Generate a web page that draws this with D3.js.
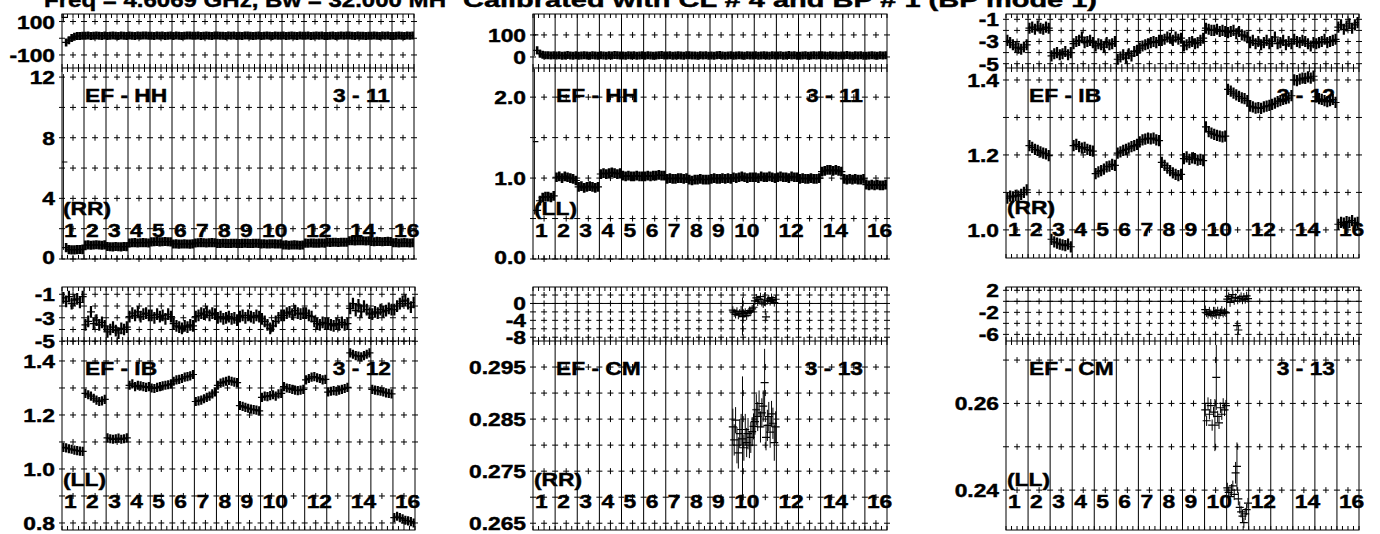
<!DOCTYPE html>
<html>
<head>
<meta charset="utf-8">
<script src="https://cdn.jsdelivr.net/npm/d3@7"></script>
<style>
  body { margin: 0; background: #fff; }
  svg { display: block; }
  text { font-family: "Liberation Sans", Arial, Helvetica, sans-serif; font-weight: bold; fill: #000; stroke: #000; stroke-width: 0.45px; }
</style>
</head>
<body>
<svg id="chart" width="1380" height="534"></svg>
<script>
// ---- data: one array of channel values per IF (16 IFs) ----
const ifLabelAt = [1, 2, 3, 4, 5, 6, 7, 8, 9, 10, 12, 14, 16];

// EF - HH, RR
const hhRRPhase = [
  [125, -25, -12, 2, 9, 13, 14, 15],
  [15, 16, 14, 15, 17, 15, 14, 16], [14, 15, 16, 15, 14, 16, 15, 14],
  [16, 15, 14, 16, 15, 17, 16, 15], [15, 14, 16, 15, 16, 14, 15, 16],
  [14, 16, 15, 14, 15, 16, 17, 15], [15, 16, 14, 15, 16, 15, 14, 16],
  [16, 15, 15, 14, 16, 15, 16, 14], [15, 14, 16, 17, 15, 14, 15, 16],
  [14, 15, 16, 15, 14, 16, 15, 15], [16, 14, 15, 16, 15, 14, 16, 15],
  [15, 16, 14, 15, 17, 15, 16, 14], [14, 15, 16, 14, 15, 16, 15, 16],
  [16, 15, 14, 16, 15, 15, 14, 15], [15, 17, 15, 14, 16, 15, 16, 14],
  [14, 15, 16, 15, 14, 16, 15, 16]
];
const hhRRAmp = [
  [6.4, 0.75, 0.62, 0.6, 0.6, 0.62, 0.63, 0.62],
  [0.92, 0.93, 0.91, 0.92, 0.94, 0.92, 0.91, 0.93], [0.82, 0.81, 0.8, 0.82, 0.81, 0.8, 0.82, 0.81],
  [1.06, 1.07, 1.08, 1.06, 1.07, 1.08, 1.07, 1.06], [1.13, 1.14, 1.15, 1.13, 1.14, 1.15, 1.14, 1.13],
  [0.99, 1.0, 0.98, 0.99, 1.0, 0.99, 0.98, 1.0], [1.06, 1.07, 1.08, 1.07, 1.06, 1.07, 1.08, 1.07],
  [1.03, 1.02, 1.04, 1.03, 1.02, 1.03, 1.04, 1.03], [1.02, 1.03, 1.04, 1.03, 1.02, 1.03, 1.04, 1.03],
  [1.0, 1.01, 0.99, 1.0, 1.01, 1.0, 0.99, 1.0], [0.92, 0.93, 0.91, 0.92, 0.93, 0.92, 0.91, 0.92],
  [1.05, 1.04, 1.06, 1.05, 1.04, 1.05, 1.06, 1.05], [1.1, 1.09, 1.11, 1.1, 1.09, 1.1, 1.11, 1.1],
  [1.2, 1.21, 1.19, 1.2, 1.21, 1.2, 1.19, 1.2], [1.15, 1.14, 1.16, 1.15, 1.14, 1.15, 1.16, 1.15],
  [1.07, 1.08, 1.06, 1.07, 1.08, 1.07, 1.06, 1.07]
];

// EF - HH, LL
const hhLLPhase = [
  [100, 30, 15, 10, 8, 8, 7, 8],
  [7, 8, 6, 7, 9, 7, 6, 8], [6, 7, 8, 7, 6, 8, 7, 6], [8, 7, 6, 8, 7, 9, 8, 7],
  [7, 6, 8, 7, 8, 6, 7, 8], [6, 8, 7, 6, 7, 8, 9, 7], [7, 8, 6, 7, 8, 7, 6, 8],
  [8, 7, 7, 6, 8, 7, 8, 6], [7, 6, 8, 9, 7, 6, 7, 8], [6, 7, 8, 7, 6, 8, 7, 7],
  [8, 6, 7, 8, 7, 6, 8, 7], [7, 8, 6, 7, 9, 7, 8, 6], [6, 7, 8, 6, 7, 8, 7, 8],
  [8, 7, 6, 8, 7, 7, 6, 7], [7, 9, 7, 6, 8, 7, 8, 6], [6, 7, 8, 7, 6, 8, 7, 8]
];
const hhLLAmp = [
  [1.45, 0.6, 0.72, 0.76, 0.77, 0.77, 0.76, 0.78],
  [1.01, 1.02, 1.0, 1.02, 1.01, 1.0, 0.99, 0.97], [0.89, 0.9, 0.88, 0.89, 0.9, 0.89, 0.88, 0.89],
  [1.05, 1.06, 1.05, 1.06, 1.07, 1.06, 1.05, 1.06], [1.03, 1.02, 1.03, 1.02, 1.02, 1.03, 1.02, 1.02],
  [1.02, 1.03, 1.02, 1.03, 1.03, 1.04, 1.03, 1.03], [0.99, 1.0, 0.99, 0.99, 1.0, 1.0, 0.99, 1.0],
  [0.98, 0.97, 0.98, 0.98, 0.99, 0.98, 0.98, 0.98], [0.99, 1.0, 0.99, 0.99, 1.0, 0.99, 1.0, 0.99],
  [1.01, 1.0, 1.01, 1.02, 1.01, 1.0, 1.01, 1.01], [1.01, 1.0, 1.02, 1.01, 1.01, 1.02, 1.01, 1.0],
  [1.01, 1.02, 1.01, 1.01, 1.0, 1.02, 1.01, 1.01], [0.99, 1.0, 0.99, 0.99, 1.0, 0.99, 0.99, 1.0],
  [1.08, 1.09, 1.1, 1.1, 1.09, 1.1, 1.09, 1.08], [0.99, 0.98, 0.99, 0.98, 0.99, 0.98, 0.98, 0.99],
  [0.92, 0.91, 0.92, 0.91, 0.92, 0.91, 0.91, 0.92]
];

// EF - IB, RR
const ibRRPhase = [
  [-2.9, -3.1, -3.3, -3.5, -3.6, -3.7, -3.5, -3.3], [-1.8, -1.7, -1.9, -1.6, -1.8, -1.9, -1.7, -1.8],
  [-4.3, -4.1, -4.0, -4.2, -4.1, -3.9, -4.2, -4.0], [-3.2, -3.0, -2.9, -2.6, -3.1, -3.0, -2.9, -3.1],
  [-3.4, -3.2, -3.3, -3.5, -3.1, -3.3, -3.2, -3.0], [-4.6, -4.4, -4.2, -4.5, -4.1, -4.3, -3.9, -3.8],
  [-3.6, -3.4, -3.3, -3.2, -3.1, -3.0, -3.1, -2.9], [-2.9, -2.8, -2.6, -2.7, -2.9, -2.6, -2.8, -2.7],
  [-3.4, -3.3, -3.1, -3.0, -3.2, -3.1, -2.9, -2.7], [-1.8, -1.9, -2.0, -2.0, -1.9, -2.1, -2.0, -2.1],
  [-2.2, -2.1, -2.0, -2.3, -2.1, -2.4, -2.5, -2.6], [-3.1, -2.9, -3.2, -3.0, -3.3, -3.1, -2.9, -3.2],
  [-3.0, -2.6, -3.2, -3.1, -2.9, -3.3, -3.0, -3.2], [-2.8, -3.0, -3.1, -2.9, -3.0, -3.2, -3.4, -3.1],
  [-3.2, -3.1, -3.0, -2.8, -3.1, -3.0, -2.9, -2.8], [-1.7, -1.5, -1.9, -1.6, -1.4, -1.8, -1.5, -1.3]
];
const ibRRAmp = [
  [1.085, 1.09, 1.088, 1.092, 1.09, 1.095, 1.1, 1.107], [1.225, 1.22, 1.215, 1.212, 1.208, 1.205, 1.203, 1.198],
  [0.975, 0.968, 0.965, 0.962, 0.96, 0.958, 0.962, 0.955], [1.225, 1.228, 1.222, 1.218, 1.22, 1.215, 1.212, 1.21],
  [1.15, 1.155, 1.158, 1.162, 1.168, 1.17, 1.175, 1.172], [1.205, 1.208, 1.212, 1.215, 1.218, 1.222, 1.225, 1.228],
  [1.235, 1.24, 1.242, 1.245, 1.243, 1.245, 1.24, 1.238], [1.18, 1.172, 1.165, 1.158, 1.152, 1.148, 1.145, 1.148],
  [1.19, 1.195, 1.188, 1.192, 1.19, 1.186, 1.188, 1.185], [1.275, 1.262, 1.258, 1.255, 1.252, 1.25, 1.248, 1.25],
  [1.375, 1.37, 1.365, 1.36, 1.356, 1.352, 1.35, 1.345], [1.33, 1.328, 1.325, 1.326, 1.324, 1.328, 1.33, 1.332],
  [1.335, 1.338, 1.342, 1.345, 1.348, 1.35, 1.352, 1.358], [1.4, 1.398, 1.402, 1.405, 1.404, 1.408, 1.405, 1.41],
  [1.355, 1.35, 1.348, 1.345, 1.342, 1.345, 1.348, 1.34], [1.015, 1.02, 1.018, 1.022, 1.02, 1.025, 1.018, 1.02]
];

// EF - IB, LL
const ibLLPhase = [
  [-1.3, -1.6, -1.2, -1.8, -1.5, -1.4, -1.7, -1.2], [-3.6, -3.3, -2.5, -3.5, -3.2, -3.6, -3.4, -3.7],
  [-4.2, -4.0, -3.8, -4.1, -4.3, -3.9, -4.0, -3.8], [-2.9, -2.6, -2.8, -2.5, -2.9, -2.7, -2.6, -2.8],
  [-2.8, -3.0, -2.7, -2.9, -2.8, -3.1, -2.7, -2.9], [-3.5, -3.7, -3.8, -3.9, -3.7, -3.8, -3.6, -3.7],
  [-2.9, -2.8, -2.6, -2.7, -2.5, -2.8, -2.6, -2.7], [-3.0, -2.9, -3.1, -3.0, -2.9, -3.1, -3.0, -3.2],
  [-2.9, -2.8, -3.0, -2.8, -2.9, -3.0, -2.8, -2.9], [-3.1, -3.3, -3.6, -3.9, -3.7, -3.3, -3.0, -2.8],
  [-2.8, -2.6, -2.5, -2.7, -2.4, -2.6, -2.7, -2.6], [-2.6, -2.8, -2.9, -3.3, -3.5, -3.6, -3.4, -3.5],
  [-3.5, -3.6, -3.7, -3.5, -3.6, -3.4, -3.6, -3.5], [-2.2, -1.8, -2.4, -1.9, -2.5, -2.0, -2.3, -2.6],
  [-2.7, -2.5, -2.6, -2.3, -2.5, -2.4, -2.2, -2.3], [-2.3, -2.0, -1.8, -1.6, -1.5, -1.8, -2.1, -1.7]
];
const ibLLAmp = [
  [1.08, 1.078, 1.075, 1.073, 1.07, 1.068, 1.066, 1.065], [1.28, 1.275, 1.27, 1.262, 1.255, 1.25, 1.252, 1.258],
  [1.115, 1.112, 1.11, 1.112, 1.114, 1.11, 1.112, 1.115], [1.31, 1.315, 1.305, 1.31, 1.308, 1.305, 1.302, 1.305],
  [1.3, 1.298, 1.302, 1.305, 1.308, 1.31, 1.312, 1.315], [1.325, 1.33, 1.332, 1.335, 1.34, 1.342, 1.345, 1.35],
  [1.25, 1.252, 1.255, 1.26, 1.265, 1.27, 1.278, 1.285], [1.31, 1.318, 1.322, 1.325, 1.328, 1.325, 1.322, 1.32],
  [1.235, 1.232, 1.228, 1.225, 1.222, 1.22, 1.218, 1.215], [1.265, 1.27, 1.268, 1.272, 1.275, 1.27, 1.278, 1.28],
  [1.305, 1.3, 1.298, 1.295, 1.292, 1.29, 1.292, 1.295], [1.33, 1.335, 1.34, 1.342, 1.338, 1.335, 1.33, 1.332],
  [1.285, 1.288, 1.29, 1.288, 1.292, 1.295, 1.298, 1.302], [1.43, 1.425, 1.42, 1.418, 1.415, 1.42, 1.425, 1.43],
  [1.295, 1.292, 1.29, 1.288, 1.285, 1.282, 1.28, 1.278], [0.82, 0.825, 0.82, 0.815, 0.81, 0.808, 0.805, 0.80]
];

// EF - CM: data only in IF 10 and 11
const cmRRPhase = [[], [], [], [], [], [], [], [], [],
  [-1.6, -2.2, -2.6, -1.9, -2.8, -2.3, -1.8, -3.1, -2.5, -2.1, -2.9, -2.3, -1.7, -2.0, -1.3, -0.9],
  [0.6, 1.3, 0.4, 0.9, 1.6, 0.3, -0.1, 1.0, -3.2, 0.7, 1.1, 0.5, 1.4, 0.8, 0.2, 1.0],
  [], [], [], [], []];
const cmRRPhaseErr = [[], [], [], [], [], [], [], [], [],
  [0.8, 0.9, 0.8, 1.0, 0.9, 0.8, 1.2, 4.5, 0.9, 0.8, 1.0, 0.9, 0.8, 0.9, 0.8, 0.9],
  [0.9, 0.8, 1.0, 0.9, 0.8, 1.0, 0.9, 1.6, 0.9, 0.8, 0.9, 1.0, 0.8, 0.9, 0.8, 0.9],
  [], [], [], [], []];
const cmRRAmp = [[], [], [], [], [], [], [], [], [],
  [0.2835, 0.2810, 0.2848, 0.2800, 0.2785, 0.2822, 0.2830, 0.2812, 0.2795, 0.2830, 0.2805, 0.2822, 0.2800, 0.2815, 0.2826, 0.2836],
  [0.2845, 0.2868, 0.2855, 0.2880, 0.2835, 0.2862, 0.2875, 0.2920, 0.2815, 0.2838, 0.2855, 0.2825, 0.2860, 0.2842, 0.2805, 0.2835],
  [], [], [], [], []];
const cmRRAmpErr = [[], [], [], [], [], [], [], [], [],
  [0.0035, 0.003, 0.0025, 0.0035, 0.003, 0.0028, 0.003, 0.012, 0.0025, 0.003, 0.0028, 0.003, 0.0025, 0.003, 0.0028, 0.0025],
  [0.0025, 0.003, 0.0028, 0.0025, 0.003, 0.0028, 0.003, 0.0065, 0.0025, 0.003, 0.0028, 0.003, 0.0025, 0.003, 0.0035, 0.003],
  [], [], [], [], []];

const cmLLPhase = [[], [], [], [], [], [], [], [], [],
  [-1.5, -2.1, -2.4, -1.8, -2.2, -2.6, -1.9, -2.0, -2.3, -1.7, -2.5, -2.0, -1.6, -2.2, -1.9, -2.1],
  [0.4, 0.9, -0.2, 0.6, 1.2, 0.1, 0.7, -4.4, -5.2, 0.5, 0.9, 0.2, 0.8, 0.3, 1.0, 0.5],
  [], [], [], [], []];
const cmLLPhaseErr = [[], [], [], [], [], [], [], [], [],
  [0.6, 0.7, 0.6, 0.8, 0.7, 0.6, 0.9, 1.0, 0.9, 0.7, 0.6, 0.7, 0.6, 0.7, 0.6, 0.7],
  [0.7, 0.6, 0.8, 0.7, 0.9, 0.6, 0.7, 0.8, 0.8, 0.7, 0.6, 0.7, 0.6, 0.7, 0.6, 0.7],
  [], [], [], [], []];
const cmLLAmp = [[], [], [], [], [], [], [], [], [],
  [0.2585, 0.2560, 0.2600, 0.2575, 0.2595, 0.2550, 0.2580, 0.2550, 0.2660, 0.2570, 0.2555, 0.2590, 0.2575, 0.2600, 0.2585, 0.2595],
  [0.2405, 0.2395, 0.2385, 0.2400, 0.2410, 0.2390, 0.2440, 0.2455, 0.2380, 0.2360, 0.2350, 0.2340, 0.2325, 0.2345, 0.2355, 0.2370],
  [], [], [], [], []];
const cmLLAmpErr = [[], [], [], [], [], [], [], [], [],
  [0.0015, 0.0012, 0.0014, 0.0012, 0.0015, 0.0013, 0.0012, 0.006, 0.0075, 0.0013, 0.0014, 0.0012, 0.0013, 0.0012, 0.0014, 0.0013],
  [0.0012, 0.0013, 0.0012, 0.0014, 0.0012, 0.0013, 0.0025, 0.0055, 0.0015, 0.0014, 0.0013, 0.0015, 0.0012, 0.0014, 0.0013, 0.0012],
  [], [], [], [], []];

const fmtPlain = spec => v => d3.format(spec)(v).replace("\u2212", "-");

// ---- panel definitions ----
const panels = [
  { box: {l: 62, r: 414, t: 14, m: 68, b: 259}, name: "EF - HH", ids: "3 - 11", pol: "(RR)",
    phase: hhRRPhase, amp: hhRRAmp, phaseErr: 24, ampErr: 0.3, armW: 2.6,
    flares: {phase: [[0, 0, 30]], amp: [[0, 0, 5.8]]},
    phaseDomain: [-178, 145], ampDomain: [0, 12.6], phaseLabels: [100, -100], phaseRows: [-100, 0, 100],
    ampLabels: [12, 8, 4, 0], ampRows: [0, 2, 4, 6, 8, 10, 12], fmt: fmtPlain("d") },
  { box: {l: 533, r: 887, t: 14, m: 68, b: 259}, name: "EF - HH", ids: "3 - 11", pol: "(LL)",
    phase: hhLLPhase, amp: hhLLAmp, phaseErr: 18, ampErr: 0.06, armW: 2.6,
    flares: {phase: [[0, 0, 95]], amp: [[0, 0, 0.9]]},
    phaseDomain: [-50, 195], ampDomain: [0, 2.36], phaseLabels: [100, 0], phaseRows: [0, 100],
    ampLabels: [2, 1, 0], ampRows: [0, 0.5, 1, 1.5, 2], fmt: fmtPlain(".1f") },
  { box: {l: 1006, r: 1359, t: 14, m: 68, b: 258}, name: "EF - IB", ids: "3 - 12", pol: "(RR)",
    phase: ibRRPhase, amp: ibRRAmp, phaseErr: 0.5, ampErr: 0.015, armW: 2.2,
    flares: {phase: [], amp: []},
    phaseDomain: [-5.39, -0.52], ampDomain: [0.925, 1.432], phaseLabels: [-1, -3, -5], phaseRows: [-5, -4, -3, -2, -1],
    ampLabels: [1.4, 1.2, 1.0], ampRows: [1.0, 1.1, 1.2, 1.3, 1.4], fmt: fmtPlain(".1f") },
  { box: {l: 62, r: 415, t: 287, m: 341, b: 530}, name: "EF - IB", ids: "3 - 12", pol: "(LL)",
    phase: ibLLPhase, amp: ibLLAmp, phaseErr: 0.5, ampErr: 0.017, armW: 2.2,
    flares: {phase: [], amp: []},
    phaseDomain: [-4.98, -0.38], ampDomain: [0.774, 1.474], phaseLabels: [-1, -3, -5], phaseRows: [-5, -4, -3, -2, -1],
    ampLabels: [1.4, 1.2, 1.0, 0.8], ampRows: [0.8, 0.9, 1.0, 1.1, 1.2, 1.3, 1.4], fmt: fmtPlain(".1f") },
  { box: {l: 533, r: 887, t: 287, m: 341, b: 530}, name: "EF - CM", ids: "3 - 13", pol: "(RR)",
    phase: cmRRPhase, amp: cmRRAmp, phaseErr: cmRRPhaseErr, ampErr: cmRRAmpErr, armW: 1,
    flares: {phase: [], amp: []},
    phaseDomain: [-8.9, 3.9], ampDomain: [0.2637, 0.300], phaseLabels: [0, -4, -8], phaseRows: [-8, -6, -4, -2, 0, 2],
    ampLabels: [0.295, 0.285, 0.275, 0.265], ampRows: [0.265, 0.27, 0.275, 0.28, 0.285, 0.29, 0.295], fmt: fmtPlain(".3f"),
    zeroLine: true },
  { box: {l: 1006, r: 1359, t: 287, m: 341, b: 530}, name: "EF - CM", ids: "3 - 13", pol: "(LL)",
    phase: cmLLPhase, amp: cmLLAmp, phaseErr: cmLLPhaseErr, ampErr: cmLLAmpErr, armW: 1,
    flares: {phase: [], amp: []},
    phaseDomain: [-7.2, 2.6], ampDomain: [0.2308, 0.2744], phaseLabels: [2, -2, -6], phaseRows: [-6, -4, -2, 0, 2],
    ampLabels: [0.26, 0.24], ampRows: [0.24, 0.25, 0.26, 0.27], fmt: fmtPlain(".2f"),
    zeroLine: true }
];

const nIF = 16;
const svg = d3.select("#chart");
const FS = 19;

function label(g, x, y, s, anchor) {
  g.append("text")
    .attr("transform", `translate(${x},${y}) scale(1.2,1)`)
    .attr("text-anchor", anchor)
    .style("font-size", FS + "px")
    .text(s);
}

// each channel drawn AIPS style: a "+" whose vertical arm is the error bar
// returns [horizontal arms, vertical arms, thin flare bars]
function seriesPaths(vals, errs, flares, x, y) {
  let h = "", v = "", f = "";
  vals.forEach((arr, i) => {
    if (!arr || !arr.length) return;
    const n = arr.length;
    arr.forEach((val, k) => {
      const cx = x(i + (k + 0.5) / n);
      let e = typeof errs === "number" ? errs : errs[i][k];
      const fl = flares.find(q => q[0] === i && q[1] === k);
      if (fl) e = fl[2];
      const cy = y(val);
      const y1 = Math.min(y(val + e), cy - 4), y2 = Math.max(y(val - e), cy + 4);
      h += `M${cx - 4},${cy}H${cx + 4}`;
      if (fl) f += `M${cx},${y1}V${y2}`; else v += `M${cx},${y1}V${y2}`;
    });
  });
  return [h, v, f];
}

panels.forEach((p, pi) => {
  const {l, r, t, m, b} = p.box;
  const x = d3.scaleLinear().domain([0, nIF]).range([l, r]);
  const yP = d3.scaleLinear().domain(p.phaseDomain).range([m, t]);
  const yA = d3.scaleLinear().domain(p.ampDomain).range([b, m]);
  const g = svg.append("g");

  const defs = g.append("defs");
  defs.append("clipPath").attr("id", "cp" + pi).append("rect").attr("x", l).attr("y", t).attr("width", r - l).attr("height", m - t);
  defs.append("clipPath").attr("id", "ca" + pi).append("rect").attr("x", l).attr("y", m).attr("width", r - l).attr("height", b - m);

  const grid = g.append("g").attr("stroke", "#000").attr("stroke-width", 1).attr("fill", "none");
  d3.range(1, nIF).forEach(i => {
    grid.append("line").attr("x1", x(i)).attr("x2", x(i)).attr("y1", t).attr("y2", b);
  });
  let tk = "";
  d3.range(0, nIF * 4 + 1).forEach(j => {
    const xx = x(j / 4);
    tk += `M${xx},${t}v4M${xx},${m - 4}v8M${xx},${b}v-4`;
  });
  const rowPath = (rows, y) => {
    let s = "";
    rows.forEach(v => {
      const yy = y(v);
      d3.range(0, nIF + 1).forEach(i => { s += `M${x(i) - 3},${yy}h6`; });
      d3.range(0, nIF).forEach(i => { const xm = x(i + 0.5); s += `M${xm - 3},${yy}h6M${xm},${yy - 3}v6`; });
    });
    return s;
  };
  tk += rowPath(p.phaseRows, yP) + rowPath(p.ampRows, yA);
  grid.append("path").attr("d", tk);
  if (p.zeroLine) grid.append("line").attr("x1", l).attr("x2", r).attr("y1", yP(0)).attr("y2", yP(0));
  grid.append("rect").attr("x", l).attr("y", t).attr("width", r - l).attr("height", b - t);
  grid.append("line").attr("x1", l).attr("x2", r).attr("y1", m).attr("y2", m);

  // data
  const ph = seriesPaths(p.phase, p.phaseErr, p.flares.phase, x, yP);
  const am = seriesPaths(p.amp, p.ampErr, p.flares.amp, x, yA);
  [[ph, "cp"], [am, "ca"]].forEach(([d, c]) => {
    const dg = g.append("g").attr("clip-path", `url(#${c}${pi})`).attr("fill", "none").attr("stroke", "#000");
    dg.append("path").attr("d", d[0]).attr("stroke-width", 1.2);
    dg.append("path").attr("d", d[1]).attr("stroke-width", p.armW);
    dg.append("path").attr("d", d[2]).attr("stroke-width", 1);
  });

  // axis labels
  p.phaseLabels.forEach(v => label(g, l - 7, yP(v) + 7, fmtPlain("d")(v), "end"));
  p.ampLabels.forEach(v => label(g, l - 7, Math.min(yA(v), b - 2) + 7, p.fmt(v), "end"));

  // IF numbers, polarization, baseline
  ifLabelAt.forEach(n => label(g, x(n - 1) + 2, b - 22, String(n), "start"));
  label(g, l + 1, b - 44, p.pol, "start");
  label(g, l + 23, m + 34, p.name, "start");
  label(g, r - 24, m + 34, p.ids, "end");
});

// title (its top runs off the page in the original)
svg.append("text").attr("x", 44).attr("y", 7).attr("textLength", 402).attr("lengthAdjust", "spacingAndGlyphs")
  .style("font-size", "21px").text("Freq = 4.6069 GHz, Bw = 32.000 MH");
svg.append("text").attr("x", 463).attr("y", 7).attr("textLength", 634).attr("lengthAdjust", "spacingAndGlyphs")
  .style("font-size", "21px").text("Calibrated with CL # 4 and BP # 1 (BP mode 1)");
</script>
</body>
</html>
